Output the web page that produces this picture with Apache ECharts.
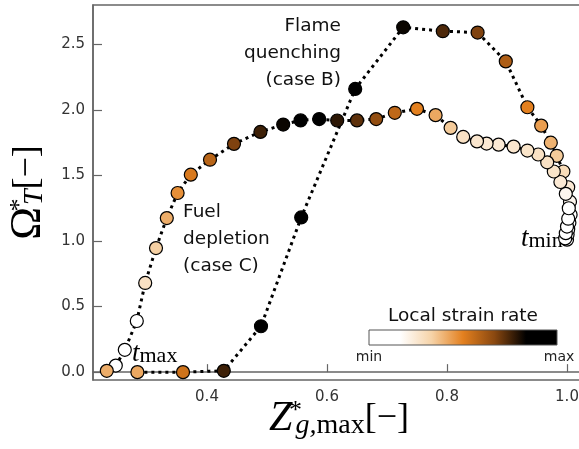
<!DOCTYPE html>
<html><head><meta charset="utf-8">
<script src="https://cdn.jsdelivr.net/npm/echarts@6/dist/echarts.min.js"></script>
<style>html,body{margin:0;padding:0;background:#fff}#c{width:579px;height:449px}</style>
</head><body><div id="c"></div>
<script>
// Case B (flame quenching), ordered from t_min
const caseB_x = [1.000, 1.001, 1.002, 1.004, 1.006, 1.005, 1.002, 0.994, 0.983, 0.973, 0.957, 0.934, 0.898, 0.851, 0.793, 0.727, 0.647, 0.557, 0.490, 0.428, 0.360, 0.284];
const caseB_y = [1.01, 1.05, 1.09, 1.14, 1.20, 1.30, 1.41, 1.53, 1.65, 1.75, 1.88, 2.02, 2.37, 2.59, 2.60, 2.63, 2.16, 1.18, 0.35, 0.01, 0.00, 0.00];
const caseB_strain = [0.05, 0.05, 0.08, 0.10, 0.15, 0.20, 0.25, 0.30, 0.35, 0.40, 0.44, 0.50, 0.60, 0.68, 0.74, 0.82, 0.92, 0.92, 0.92, 0.76, 0.54, 0.42];
// Case C (fuel depletion), ordered from t_min
const caseC_x = [0.997, 0.998, 1.000, 1.002, 1.003, 0.998, 0.989, 0.978, 0.967, 0.952, 0.934, 0.911, 0.886, 0.866, 0.850, 0.827, 0.806, 0.781, 0.750, 0.713, 0.682, 0.650, 0.617, 0.587, 0.556, 0.527, 0.489, 0.445, 0.405, 0.373, 0.351, 0.333, 0.315, 0.297, 0.283, 0.263, 0.248, 0.233];
const caseC_y = [1.02, 1.06, 1.11, 1.17, 1.25, 1.36, 1.45, 1.53, 1.60, 1.66, 1.69, 1.72, 1.735, 1.743, 1.76, 1.794, 1.863, 1.96, 2.008, 1.978, 1.93, 1.92, 1.919, 1.93, 1.92, 1.888, 1.832, 1.741, 1.62, 1.506, 1.366, 1.175, 0.946, 0.68, 0.39, 0.17, 0.05, 0.01];
const caseC_strain = [0.02, 0.03, 0.05, 0.08, 0.12, 0.20, 0.25, 0.27, 0.28, 0.28, 0.27, 0.26, 0.25, 0.25, 0.26, 0.28, 0.35, 0.42, 0.50, 0.57, 0.65, 0.72, 0.78, 0.88, 0.90, 0.82, 0.76, 0.68, 0.58, 0.52, 0.47, 0.41, 0.34, 0.28, 0.08, 0.10, 0.12, 0.41];
const xTicks = [0.4, 0.6, 0.8, 1.0];
const yTicks = [0.0, 0.5, 1.0, 1.5, 2.0, 2.5];
const strainColors = ['#ffffff', '#ffffff', '#f6d3a8', '#e3801f', '#8a4810', '#000000', '#000000'];

const toData = (xs, ys, ss) => xs.map((x, i) => [x, ys[i], ss[i]]);
const tickFmt = ticks => v => ticks.some(t => Math.abs(t - v) < 1e-6) ? v.toFixed(1) : '';

const serif = 'Liberation Serif';
const sans = 'DejaVu Sans';
const axisColor = '#666';

const lineSeries = (name, data) => ({
  name, type: 'line', data,
  encode: { x: 0, y: 1 },
  symbol: 'circle', symbolSize: 13,
  itemStyle: { borderColor: '#000', borderWidth: 1.2 },
  lineStyle: { color: '#000', width: 3, type: [3, 4] },
  emphasis: { disabled: true },
  animation: false
});

const chart = echarts.init(document.getElementById('c'), null, { renderer: 'canvas' });
chart.setOption({
  backgroundColor: '#fff',
  animation: false,
  grid: { left: 93, top: 5, width: 492, height: 375, show: true, borderColor: axisColor, borderWidth: 1.5, backgroundColor: 'transparent', outerBoundsMode: 'none' },
  xAxis: {
    type: 'value', min: 0.21, max: 1.03, splitNumber: 5,
    splitLine: { show: false },
    axisLine: { lineStyle: { color: axisColor, width: 1.5 } },
    axisTick: { inside: true, length: 8, lineStyle: { color: axisColor, width: 1.2 } },
    axisLabel: { formatter: tickFmt(xTicks), showMinLabel: false, showMaxLabel: false, color: '#333', fontSize: 15, fontFamily: sans, margin: 10 },
    name: '{Z|Z}{sup|*}{sub|g,}{subr|max}{br|[−]}',
    nameLocation: 'middle', nameGap: 18, nameMoveOverlap: false,
    nameTextStyle: {
      rich: {
        Z: { fontFamily: serif, fontStyle: 'italic', fontSize: 42, lineHeight: 42, verticalAlign: 'middle', color: '#000' },
        sup: { fontFamily: serif, fontSize: 26, lineHeight: 14, verticalAlign: 'top', width: 0, padding: [0, 0, 0, 3], color: '#000' },
        sub: { fontFamily: serif, fontStyle: 'italic', fontSize: 28, lineHeight: 16, verticalAlign: 'bottom', color: '#000' },
        subr: { fontFamily: serif, fontSize: 28, lineHeight: 16, verticalAlign: 'bottom', color: '#000' },
        br: { fontFamily: serif, fontSize: 36, lineHeight: 42, verticalAlign: 'middle', color: '#000' }
      }
    }
  },
  yAxis: {
    type: 'value', min: -0.06, max: 2.8, splitNumber: 5,
    splitLine: { show: false },
    axisLine: { lineStyle: { color: axisColor, width: 1.5 } },
    axisTick: { inside: true, length: 9, lineStyle: { color: axisColor, width: 1.2 } },
    axisLabel: { formatter: tickFmt(yTicks), showMinLabel: false, showMaxLabel: false, color: '#333', fontSize: 15, fontFamily: sans, margin: 8 },
    name: '{O|Ω}{sup|*}{sub|T}{br|[−]}',
    nameLocation: 'middle', nameGap: 44, nameRotate: 90, nameMoveOverlap: false,
    nameTextStyle: {
      rich: {
        O: { fontFamily: serif, fontSize: 44, lineHeight: 42, verticalAlign: 'middle', color: '#000' },
        sup: { fontFamily: serif, fontSize: 26, lineHeight: 14, verticalAlign: 'top', width: 0, padding: [0, 0, 0, 2], color: '#000' },
        sub: { fontFamily: serif, fontStyle: 'italic', fontSize: 28, lineHeight: 16, verticalAlign: 'bottom', color: '#000' },
        br: { fontFamily: serif, fontSize: 36, lineHeight: 42, verticalAlign: 'middle', color: '#000' }
      }
    }
  },
  visualMap: {
    show: false, type: 'continuous', dimension: 2, min: 0, max: 1,
    seriesIndex: [0, 1],
    inRange: { color: strainColors }
  },
  series: [
    lineSeries('Case B', toData(caseB_x, caseB_y, caseB_strain)),
    lineSeries('Case C', toData(caseC_x, caseC_y, caseC_strain))
  ],
  graphic: [
    { type: 'text', x: 341, y: 13, style: { text: 'Flame\nquenching\n(case B)', align: 'right', verticalAlign: 'top', font: '18.5px "DejaVu Sans"', lineHeight: 27, fill: '#111' } },
    { type: 'text', x: 183, y: 199, style: { text: 'Fuel\ndepletion\n(case C)', align: 'left', verticalAlign: 'top', font: '18.5px "DejaVu Sans"', lineHeight: 27, fill: '#111' } },
    { type: 'text', x: 132, y: 354, style: { text: '{t|t}{s|max}', align: 'left', verticalAlign: 'middle',
        rich: { t: { fontFamily: serif, fontStyle: 'italic', fontSize: 27, lineHeight: 26, verticalAlign: 'bottom', fill: '#000' },
                s: { fontFamily: serif, fontSize: 22, lineHeight: 12, verticalAlign: 'bottom', fill: '#000' } } } },
    { type: 'text', x: 521, y: 239, style: { text: '{t|t}{s|min}', align: 'left', verticalAlign: 'middle',
        rich: { t: { fontFamily: serif, fontStyle: 'italic', fontSize: 27, lineHeight: 26, verticalAlign: 'bottom', fill: '#000' },
                s: { fontFamily: serif, fontSize: 22, lineHeight: 12, verticalAlign: 'bottom', fill: '#000' } } } },
    { type: 'text', x: 463, y: 316, style: { text: 'Local strain rate', align: 'center', verticalAlign: 'middle', font: '18.5px "DejaVu Sans"', fill: '#111' } },
    { type: 'rect', shape: { x: 369, y: 330, width: 188, height: 15 },
      style: { stroke: '#555', lineWidth: 1,
        fill: new echarts.graphic.LinearGradient(0, 0, 1, 0, strainColors.map((c, i) => ({ offset: i / (strainColors.length - 1), color: c }))) } },
    { type: 'text', x: 369, y: 357, style: { text: 'min', align: 'center', verticalAlign: 'middle', font: '14px "DejaVu Sans"', fill: '#222' } },
    { type: 'text', x: 559, y: 357, style: { text: 'max', align: 'center', verticalAlign: 'middle', font: '14px "DejaVu Sans"', fill: '#222' } }
  ]
});
</script></body></html>
